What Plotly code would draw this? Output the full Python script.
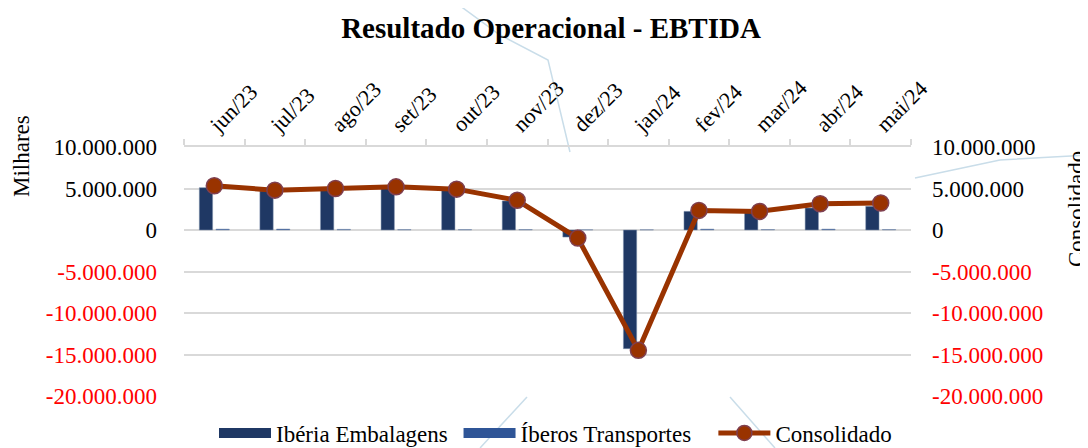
import plotly.graph_objects as go

categories = ["jun/23", "jul/23", "ago/23", "set/23", "out/23", "nov/23",
              "dez/23", "jan/24", "fev/24", "mar/24", "abr/24", "mai/24"]
iberia_embalagens = [5100000, 4700000, 4850000, 5000000, 4850000, 3500000,
                     -850000, -14300000, 2250000, 2150000, 2650000, 2850000]
iberos_transportes = [110000, 120000, 80000, 50000, 50000, 60000,
                      30000, 30000, 110000, 60000, 110000, 60000]
consolidado = [5330000, 4800000, 5000000, 5200000, 4920000, 3580000,
               -970000, -14500000, 2360000, 2240000, 3170000, 3250000]
tick_values = [10000000, 5000000, 0, -5000000, -10000000, -15000000, -20000000]
tick_labels = ["10.000.000", "5.000.000", "0", "-5.000.000", "-10.000.000",
               "-15.000.000", "-20.000.000"]

FONT = "Liberation Serif"
NAVY = "#1f3864"
BLUE = "#2f5597"
BROWN = "#993300"
GRID = "#d9d9d9"
NBSP = "\u00a0"

OFF = 8  # page body margin of the browser
W, H = 1088 - OFF, 448 - OFF
L, T = 184 - OFF, 147 - OFF
R, B = 177, 52
PW, PH = W - L - R, H - T - B


def px(xp, yp):
    """screen pixel (reference picture) -> paper coordinates"""
    return (xp - OFF - L) / PW, (H - B - (yp - OFF)) / PH


ticktext = [t if v >= 0 else f"<span style='color:#ff0000'>{t}</span>"
            for v, t in zip(tick_values, tick_labels)]

fig = go.Figure()
fig.add_trace(go.Bar(x=categories, y=iberia_embalagens, name="Ibéria Embalagens",
                     showlegend=False,
                     marker=dict(color=NAVY, line=dict(color="#8497b0", width=0.5))))
fig.add_trace(go.Bar(x=categories, y=iberos_transportes, name="Íberos Transportes",
                     showlegend=False,
                     marker=dict(color=BLUE, line=dict(color="#8497b0", width=0.5))))
fig.add_trace(go.Scatter(x=categories, y=consolidado, name="Consolidado", yaxis="y2",
                         mode="lines+markers", showlegend=False,
                         line=dict(color=BROWN, width=5),
                         marker=dict(color=BROWN, size=16,
                                     line=dict(color="#7f3f4f", width=1.5))))
# legend entries (wide rectangle symbols as in the original)
fig.add_trace(go.Scatter(x=[categories[0]], y=[None], name="Ibéria Embalagens" + NBSP,
                         mode="lines", line=dict(color=NAVY, width=13)))
fig.add_trace(go.Scatter(x=[categories[0]], y=[None], name="Íberos Transportes" + NBSP * 3,
                         mode="lines", line=dict(color=BLUE, width=13)))
fig.add_trace(go.Scatter(x=[categories[0]], y=[None], name="Consolidado",
                         mode="lines+markers", line=dict(color=BROWN, width=5),
                         marker=dict(color=BROWN, size=15,
                                     line=dict(color="#7f3f4f", width=1.5))))

# faint decorative connector lines present in the original picture
deco = [
    [(452, 0), (500, 35), (548, 60), (570, 152)],
    [(527, 397), (480, 448)],
    [(730, 397), (775, 448)],
    [(915, 178), (1000, 160), (1088, 155)],
]
shapes = []
for pts in deco:
    p = [px(a, b) for a, b in pts]
    path = "M " + " L ".join(f"{a:.4f},{b:.4f}" for a, b in p)
    shapes.append(dict(type="path", path=path, xref="paper", yref="paper",
                       line=dict(color="#c9dde9", width=1.5), layer="below"))

yrange = [-20000000, 10000000]
fig.update_layout(
    width=W, height=H,
    paper_bgcolor="white", plot_bgcolor="white",
    font=dict(family=FONT, size=23, color="#000000"),
    margin=dict(l=L, r=R, t=T, b=B, autoexpand=False),
    title=dict(text="<b>Resultado Operacional - EBTIDA</b>", x=(551 - OFF) / W,
               xanchor="center", y=1 - (28 - OFF) / H, yanchor="middle",
               font=dict(family=FONT, size=29, color="#000000")),
    barmode="group", bargap=0.45, bargroupgap=0.2,
    xaxis=dict(side="top", tickangle=-45, ticks="outside", tickson="boundaries",
               range=[-0.5, len(categories) - 0.5],
               ticklen=6, tickcolor=GRID, tickwidth=1.5, automargin=False,
               showline=True, linecolor=GRID, linewidth=1.5,
               showgrid=False, tickfont=dict(size=22), ticklabelshift=-3,
               ticklabelstandoff=0),
    yaxis=dict(range=yrange, tickvals=tick_values, ticktext=ticktext, automargin=False,
               showgrid=True, gridcolor=GRID, gridwidth=1.5,
               zeroline=False, showline=False, ticks="", ticklabelstandoff=26,
               tickfont=dict(size=23)),
    yaxis2=dict(range=yrange, tickvals=tick_values, ticktext=ticktext, automargin=False,
                overlaying="y", side="right", showgrid=False, zeroline=False,
                showline=False, ticks="", ticklabelstandoff=20,
                tickfont=dict(size=23)),
    legend=dict(orientation="h", xref="container", yref="container",
                x=(214 - OFF) / W, xanchor="left",
                y=1 - (433 - OFF) / H, yanchor="middle",
                font=dict(size=23), itemwidth=52, traceorder="normal",
                tracegroupgap=0, bgcolor="rgba(0,0,0,0)"),
    showlegend=True,
    shapes=shapes,
    annotations=[
        dict(text="Milhares", textangle=-90, xref="paper", yref="paper",
             x=px(21, 0)[0], y=px(0, 156)[1], xanchor="center", yanchor="middle",
             showarrow=False, font=dict(size=23)),
        dict(text="Consolidado", textangle=-90, xref="paper", yref="paper",
             x=px(1076, 0)[0], y=px(0, 209)[1], xanchor="center", yanchor="middle",
             showarrow=False, font=dict(size=23)),
    ],
)

fig.write_html("out.html")
